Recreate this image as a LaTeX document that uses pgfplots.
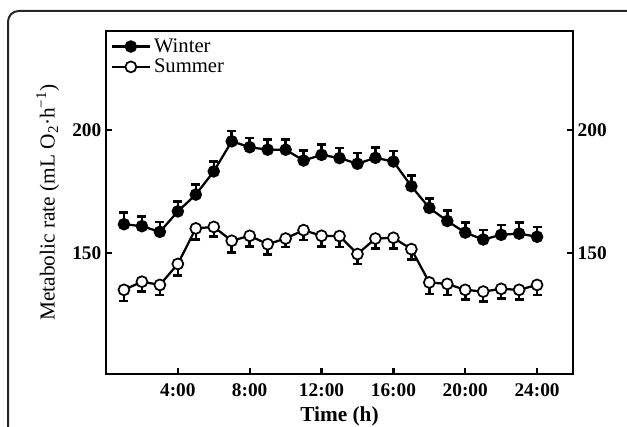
\documentclass[border=0pt]{standalone}
\usepackage{pgfplots}
\pgfplotsset{compat=1.18}
\usepackage{fontspec}
\setmainfont{Liberation Serif}

% hourly means and SE
\pgfplotstableread{
h  w      we   s      se
1  161.7  4.7  135.1  4.5
2  160.9  3.9  138.4  4.0
3  158.6  4.0  137.1  4.0
4  166.9  4.0  145.6  4.7
5  173.7  4.2  160.0  4.4
6  183.1  4.0  160.6  3.8
7  195.3  4.2  155.0  4.7
8  192.9  3.8  157.0  4.4
9  191.9  4.2  153.6  4.2
10 191.9  4.2  155.9  3.4
11 187.5  4.0  159.3  4.0
12 189.8  4.3  157.0  4.4
13 188.5  4.1  156.9  4.4
14 186.2  4.3  149.6  4.0
15 188.6  4.2  155.9  4.0
16 187.1  4.2  156.2  4.3
17 177.1  4.4  151.6  4.2
18 168.3  3.8  138.1  4.7
19 163.0  4.3  137.5  4.4
20 158.3  4.0  135.1  4.0
21 155.5  3.9  134.4  4.0
22 157.4  4.0  135.5  4.0
23 157.9  4.6  135.1  4.0
24 156.6  3.9  137.1  4.0
}\metab

\begin{document}
\begin{tikzpicture}
\useasboundingbox (0pt,0pt) rectangle (470.25pt,320.25pt);
\draw[line width=1.5pt, draw=black!85, rounded corners=8pt] (6pt,-20pt) -- (6pt,312pt) -- (500pt,312pt);
\pgfplotsset{
    common/.style={
        at={(79.5pt,39.75pt)}, anchor=south west,
        scale only axis, width=350.25pt, height=257.25pt,
        xmin=0, xmax=26, ymin=101, ymax=240,
        ytick={150,200},
        tick align=inside,
        major tick length=4.5pt,
        every tick/.style={line width=1.7pt, black},
        axis line style={line width=1.9pt},
        tick label style={font=\fontsize{14.5}{16}\selectfont\bfseries},
        /pgf/number format/assume math mode=true,
    },
}
\begin{axis}[
    common,
    xtick={4,8,12,16,20,24},
    xticklabels={4:00,8:00,12:00,16:00,20:00,24:00},
    xtick pos=bottom,
    ytick pos=left,
    xticklabel style={yshift=-3.5pt},
    xlabel={\bfseries Time (h)},
    ylabel={Metabolic rate (mL O\textsubscript{2}·h\textsuperscript{−1})},
    label style={font=\fontsize{16}{18}\selectfont},
    xlabel style={yshift=-1pt},
    ylabel style={yshift=3pt},
    legend style={at={(0.006,0.99)}, anchor=north west, draw=none, fill=none,
        font=\fontsize{15.5}{18}\selectfont, inner sep=1pt, row sep=-0.5pt},
    legend cell align=left,
    legend image code/.code={
        \draw[mark repeat=2,mark phase=2,#1] plot coordinates {(0pt,0pt) (14.5pt,0pt) (29pt,0pt)};
    },
]
\addplot[black, line width=1.7pt, mark=*, mark size=4.2pt,
    mark options={fill=black, line width=1pt, solid},
    error bars/.cd, y dir=plus, y explicit,
    error bar style={line width=1.9pt},
    error mark options={rotate=90, mark size=3.4pt, line width=1.9pt}]
    table[x=h, y=w, y error=we] {\metab};
\addlegendentry{Winter}
\addplot[black, line width=1.7pt, mark=*, mark size=4.1pt,
    mark options={fill=white, line width=1.3pt, solid},
    error bars/.cd, y dir=minus, y explicit,
    error bar style={line width=1.9pt},
    error mark options={rotate=90, mark size=3.4pt, line width=1.9pt}]
    table[x=h, y=s, y error=se] {\metab};
\addlegendentry{Summer}
\end{axis}
\begin{axis}[
    common,
    axis x line=none,
    axis y line*=right,
    yticklabel pos=right,
]
\end{axis}
\end{tikzpicture}
\end{document}
